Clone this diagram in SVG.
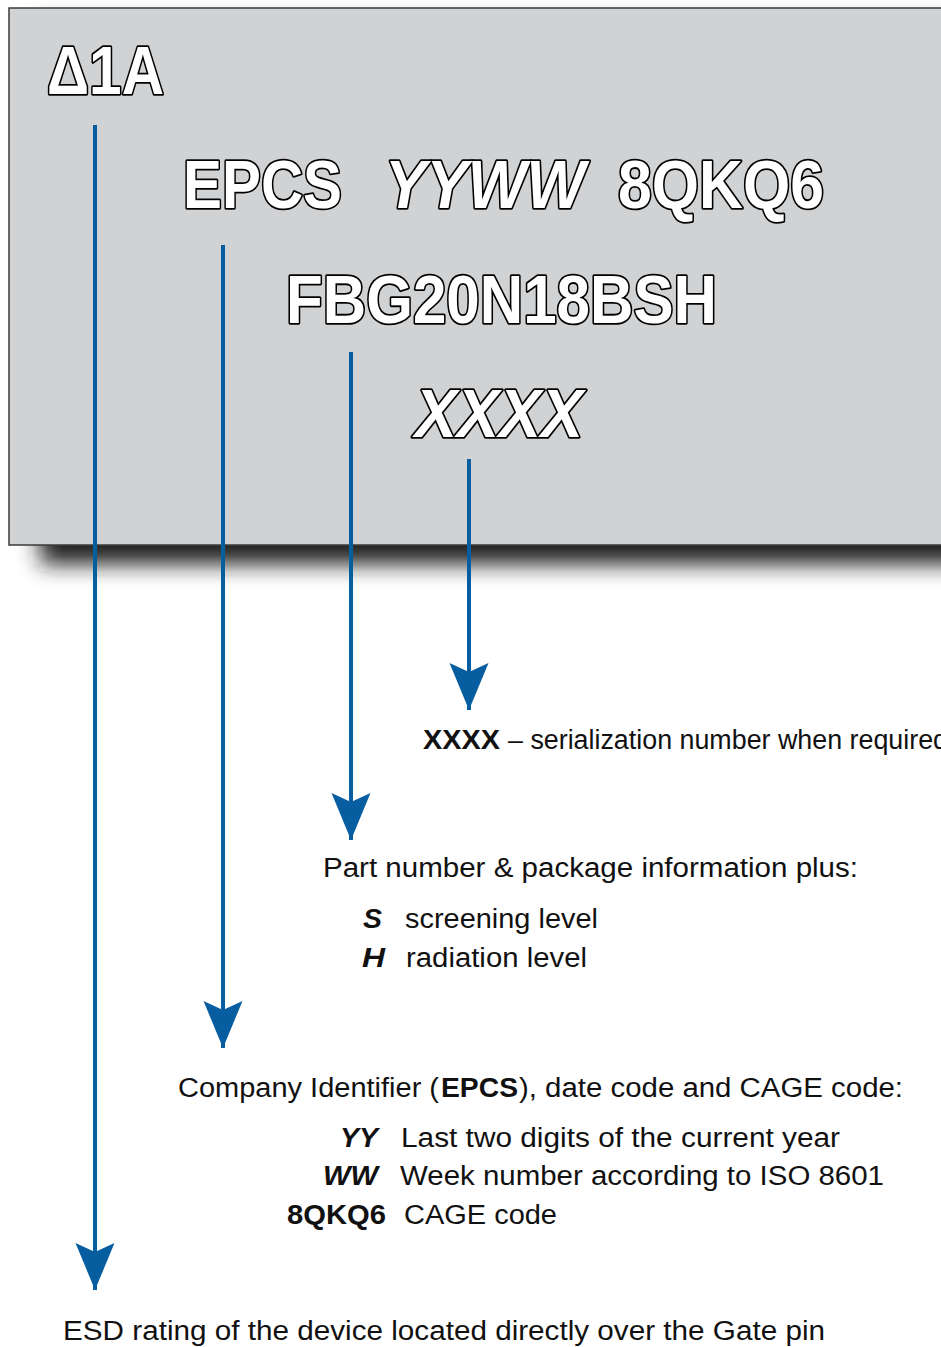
<svg xmlns="http://www.w3.org/2000/svg" width="941" height="1347" viewBox="0 0 941 1347">
  <style>
    .big { font-family: "Liberation Sans", Arial, sans-serif; font-weight: bold; font-size: 69px; fill: #ffffff; stroke: #000000; stroke-width: 3.6; paint-order: stroke; stroke-linejoin: round; }
    .it { font-style: italic; }
    .txt { font-family: "Liberation Sans", Arial, sans-serif; font-size: 27px; fill: #111111; }
    .b { font-weight: bold; }
    .bi { font-weight: bold; font-style: italic; }
    .conn line { stroke: #065d9f; stroke-width: 4; fill: none; }
  </style>
  <defs>
    <filter id="blur" x="-10%" y="-10%" width="120%" height="130%">
      <feGaussianBlur stdDeviation="11"/>
    </filter>
    <marker id="head" markerUnits="userSpaceOnUse" markerWidth="60" markerHeight="50" viewBox="-50 -25 60 50" refX="0" refY="0" orient="auto">
      <path d="M0,0 L-47,-19.5 L-38,0 L-47,19.5 Z" fill="#065d9f"/>
    </marker>
  </defs>

  <rect width="941" height="1347" fill="#ffffff"/>

  <g id="label-plate">
    <rect x="40" y="24" width="960" height="540" fill="#1a1a1a" filter="url(#blur)"/>
    <rect x="9" y="8" width="960" height="537" fill="#d1d2d4" stroke="#3a3a3a" stroke-width="1.5"/>
  </g>

  <g id="mark-esd">
    <text class="big" x="47" y="94" textLength="117" lengthAdjust="spacingAndGlyphs">Δ1A</text>
  </g>
  <g id="mark-epcs">
    <text class="big" x="183" y="208" textLength="159" lengthAdjust="spacingAndGlyphs">EPCS</text>
  </g>
  <g id="mark-yyww">
    <text class="big it" x="385" y="208" textLength="200" lengthAdjust="spacingAndGlyphs">YYWW</text>
  </g>
  <g id="mark-cage">
    <text class="big" x="618" y="208" textLength="206" lengthAdjust="spacingAndGlyphs">8QKQ6</text>
  </g>
  <g id="mark-part">
    <text class="big" x="286" y="323" textLength="431" lengthAdjust="spacingAndGlyphs">FBG20N18BSH</text>
  </g>
  <g id="mark-serial">
    <text class="big it" x="415" y="437" textLength="168" lengthAdjust="spacingAndGlyphs">XXXX</text>
  </g>

  <g id="connectors" class="conn">
    <line x1="95" y1="125" x2="95" y2="1290" marker-end="url(#head)"/>
    <line x1="223" y1="245" x2="223" y2="1048" marker-end="url(#head)"/>
    <line x1="351" y1="352" x2="351" y2="840" marker-end="url(#head)"/>
    <line x1="469" y1="459" x2="469" y2="710" marker-end="url(#head)"/>
  </g>

  <g id="desc-serial">
    <text class="txt b" x="423" y="749" textLength="77" lengthAdjust="spacingAndGlyphs">XXXX</text>
    <text class="txt" x="508" y="749" textLength="440" lengthAdjust="spacingAndGlyphs">– serialization number when required</text>
  </g>

  <g id="desc-part">
    <text class="txt" x="323" y="877" textLength="535" lengthAdjust="spacingAndGlyphs">Part number &amp; package information plus:</text>
    <text class="txt bi" x="363" y="928" textLength="19" lengthAdjust="spacingAndGlyphs">S</text>
    <text class="txt" x="405" y="928" textLength="193" lengthAdjust="spacingAndGlyphs">screening level</text>
    <text class="txt bi" x="362" y="967" textLength="23" lengthAdjust="spacingAndGlyphs">H</text>
    <text class="txt" x="406" y="967" textLength="181" lengthAdjust="spacingAndGlyphs">radiation level</text>
  </g>

  <g id="desc-company">
    <text class="txt" x="178" y="1097" textLength="261" lengthAdjust="spacingAndGlyphs">Company Identifier (</text>
    <text class="txt b" x="441" y="1097" textLength="77" lengthAdjust="spacingAndGlyphs">EPCS</text>
    <text class="txt" x="519" y="1097" textLength="384" lengthAdjust="spacingAndGlyphs">), date code and CAGE code:</text>
    <text class="txt bi" x="340" y="1147" textLength="38" lengthAdjust="spacingAndGlyphs">YY</text>
    <text class="txt" x="401" y="1147" textLength="439" lengthAdjust="spacingAndGlyphs">Last two digits of the current year</text>
    <text class="txt bi" x="323" y="1185" textLength="55" lengthAdjust="spacingAndGlyphs">WW</text>
    <text class="txt" x="400" y="1185" textLength="484" lengthAdjust="spacingAndGlyphs">Week number according to ISO 8601</text>
    <text class="txt b" x="287" y="1224" textLength="99" lengthAdjust="spacingAndGlyphs">8QKQ6</text>
    <text class="txt" x="404" y="1224" textLength="153" lengthAdjust="spacingAndGlyphs">CAGE code</text>
  </g>

  <g id="desc-esd">
    <text class="txt" x="63" y="1340" textLength="762" lengthAdjust="spacingAndGlyphs">ESD rating of the device located directly over the Gate pin</text>
  </g>
</svg>
